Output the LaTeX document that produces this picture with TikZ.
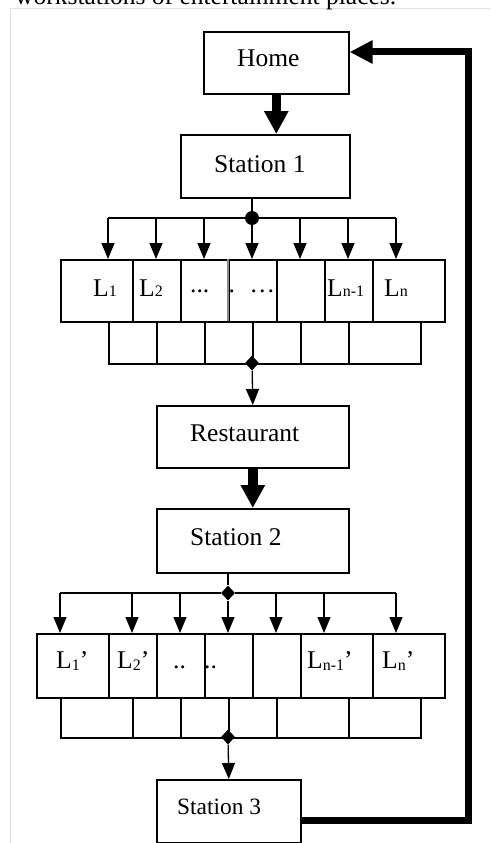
\documentclass[tikz,border=0pt]{standalone}
\usepackage{fontspec}
\setmainfont{Liberation Serif}
\usetikzlibrary{arrows.meta,shapes.geometric}
\newcommand\mainfs{\fontsize{25.5}{30}\selectfont}
\newcommand\subsz[1]{{\fontsize{16}{18}\selectfont #1}}
\newcommand\subdn[1]{\raisebox{-2pt}{\fontsize{16}{18}\selectfont #1}}
\newcommand\mkcell[5]{\node[cellbox,minimum width=#4pt,minimum height=#5pt] (#1) at (#2,#3) {};}
\begin{document}
\begin{tikzpicture}[x=1pt,y=-1pt,
  box/.style={draw,line width=1.6pt,inner sep=0pt,anchor=north west},
  cellbox/.style={draw,line width=1.6pt,inner sep=0pt,anchor=north west},
  lbl/.style={inner sep=0pt,anchor=base west,font=\mainfs},
  tarr/.style={line width=1.3pt,-{Triangle[length=16pt,width=13pt]}},
  thinl/.style={line width=1.3pt},
  tharr/.style={line width=9.5pt,-{Triangle[length=23pt,width=23pt]}},
  retl/.style={line width=7pt,-{Triangle[length=23pt,width=22pt]}},
  joint/.style={fill,inner sep=0pt}]
\useasboundingbox (0,0) rectangle (490,843);
\clip (0,0) rectangle (490,843);
% page frame and cut caption
\draw[black!12,line width=1pt] (490,8.3) -- (10.7,8.3) -- (10.7,843);
\node[lbl] (cap) at (15,4.5) {workstations of entertainment places.};

% main boxes
\node[box,minimum width=145pt,minimum height=62pt] (home) at (203,31) {};
\node[box,minimum width=169pt,minimum height=63pt] (st1) at (180,134) {};
\node[box,minimum width=192pt,minimum height=62pt] (rest) at (156,405) {};
\node[box,minimum width=192pt,minimum height=64pt] (st2) at (156,508) {};
\node[box,minimum width=144pt,minimum height=63pt] (st3) at (156,779) {};
\node[lbl] (thome) at (237,66.7) {Home};
\node[lbl] (tst1) at (214,172) {Station 1};
\node[lbl] (trest) at (190,441) {Restaurant};
\node[lbl] (tst2) at (190,545) {Station 2};
\node[lbl,font=\fontsize{23.4}{28}\selectfont] (tst3) at (177,814) {Station 3};

% row 1 cells
\mkcell{l1}{60}{259}{72}{62}
\mkcell{l2}{132}{259}{48}{62}
\mkcell{l3}{180}{259}{48}{62}
\mkcell{l4}{228}{259}{48}{62}
\mkcell{l5}{276}{259}{48}{62}
\mkcell{l6}{324}{259}{48}{62}
\mkcell{l7}{372}{259}{72}{62}
\draw[white,line width=1.8pt] (228,260) -- (228,320);
\draw[black!45,line width=1.1pt] (228,259) -- (228,321);
\mkcell{m1}{108}{321}{48}{42}
\mkcell{m2}{156}{321}{48}{42}
\mkcell{m3}{204}{321}{48}{42}
\mkcell{m4}{252}{321}{48}{42}
\mkcell{m5}{300}{321}{48}{42}
\mkcell{m6}{348}{321}{72}{42}
\node[lbl] (tl1) at (93,296) {L\subsz{1}};
\node[lbl] (tl2) at (139,296) {L\subsz{2}};
\node[lbl] (tl3) at (190,292) {...};
\node[lbl] (tl4a) at (228.5,292) {.};
\node[lbl] (tl4b) at (249.5,292) {…};
\node[lbl] (tl6) at (327,296) {L\subsz{n-1}};
\node[lbl] (tl7) at (384,296) {L\subsz{n}};

% row 2 cells
\mkcell{p1}{36}{633}{72}{64}
\mkcell{p2}{108}{633}{48}{64}
\mkcell{p3}{156}{633}{48}{64}
\mkcell{p4}{204}{633}{48}{64}
\mkcell{p5}{252}{633}{48}{64}
\mkcell{p6}{300}{633}{72}{64}
\mkcell{p7}{372}{633}{72}{64}
\mkcell{q1}{60}{697}{72}{40}
\mkcell{q2}{132}{697}{48}{40}
\mkcell{q3}{180}{697}{48}{40}
\mkcell{q4}{228}{697}{48}{40}
\mkcell{q5}{276}{697}{72}{40}
\mkcell{q6}{348}{697}{72}{40}
\node[lbl] (tp1) at (56,668) {L\subdn{1}’};
\node[lbl] (tp2) at (117,668) {L\subdn{2}’};
\node[lbl] (tp3) at (173,668) {..};
\node[lbl] (tp4) at (204,668) {..};
\node[lbl] (tp6) at (307,668) {L\subdn{n-1}’};
\node[lbl] (tp7) at (382,668) {L\subdn{n}’};

% joints
\node[joint,circle,minimum size=14pt] (dot) at (252,218) {};
\node[joint,diamond,minimum width=14pt,minimum height=15pt] (dm1) at (252,363) {};
\node[joint,diamond,minimum width=14pt,minimum height=15pt] (dm2) at (228,593) {};
\node[joint,diamond,minimum width=14pt,minimum height=15pt] (dm3) at (228,737) {};

% thick flow arrows
\draw[tharr] (home.south) -- (home.south |- st1.north);
\draw[tharr] (rest.south) -- (st2.north);

% distribution bus 1
\coordinate (b1) at (108,218);
\coordinate (b2) at (156,218);
\coordinate (b3) at (204,218);
\coordinate (b5) at (300,218);
\coordinate (b6) at (348,218);
\coordinate (b7) at (396,218);
\draw[thinl] (dot |- st1.south) -- (dot);
\draw[thinl] (b1) -- (dot) -- (b7);
\draw[tarr] (b1) -- (b1 |- l1.north);
\draw[tarr] (b2) -- (b2 |- l2.north);
\draw[tarr] (b3) -- (b3 |- l3.north);
\draw[tarr] (dot) -- (dot |- l4.north);
\draw[tarr] (b5) -- (b5 |- l5.north);
\draw[tarr] (b6) -- (b6 |- l6.north);
\draw[tarr] (b7) -- (b7 |- l7.north);
\draw[tarr] (dm1) -- (rest.north);

% distribution bus 2
\coordinate (c1) at (60,593);
\coordinate (c2) at (132,593);
\coordinate (c3) at (180,593);
\coordinate (c5) at (276,593);
\coordinate (c6) at (324,593);
\coordinate (c7) at (396,593);
\draw[thinl] (dm2 |- st2.south) -- (dm2);
\draw[thinl] (c1) -- (dm2) -- (c7);
\draw[tarr] (c1) -- (c1 |- p1.north);
\draw[tarr] (c2) -- (c2 |- p2.north);
\draw[tarr] (c3) -- (c3 |- p3.north);
\draw[tarr] (dm2) -- (dm2 |- p4.north);
\draw[tarr] (c5) -- (c5 |- p5.north);
\draw[tarr] (c6) -- (c6 |- p6.north);
\draw[tarr] (c7) -- (c7 |- p7.north);
\draw[tarr] (dm3) -- (st3.north);

% return line
\coordinate (r1) at (468,820);
\coordinate (r2) at (468,52);
\draw[retl] (st3.east |- r1) -- (r1) -- (r2) -- (home.east |- r2);
\end{tikzpicture}
\end{document}
